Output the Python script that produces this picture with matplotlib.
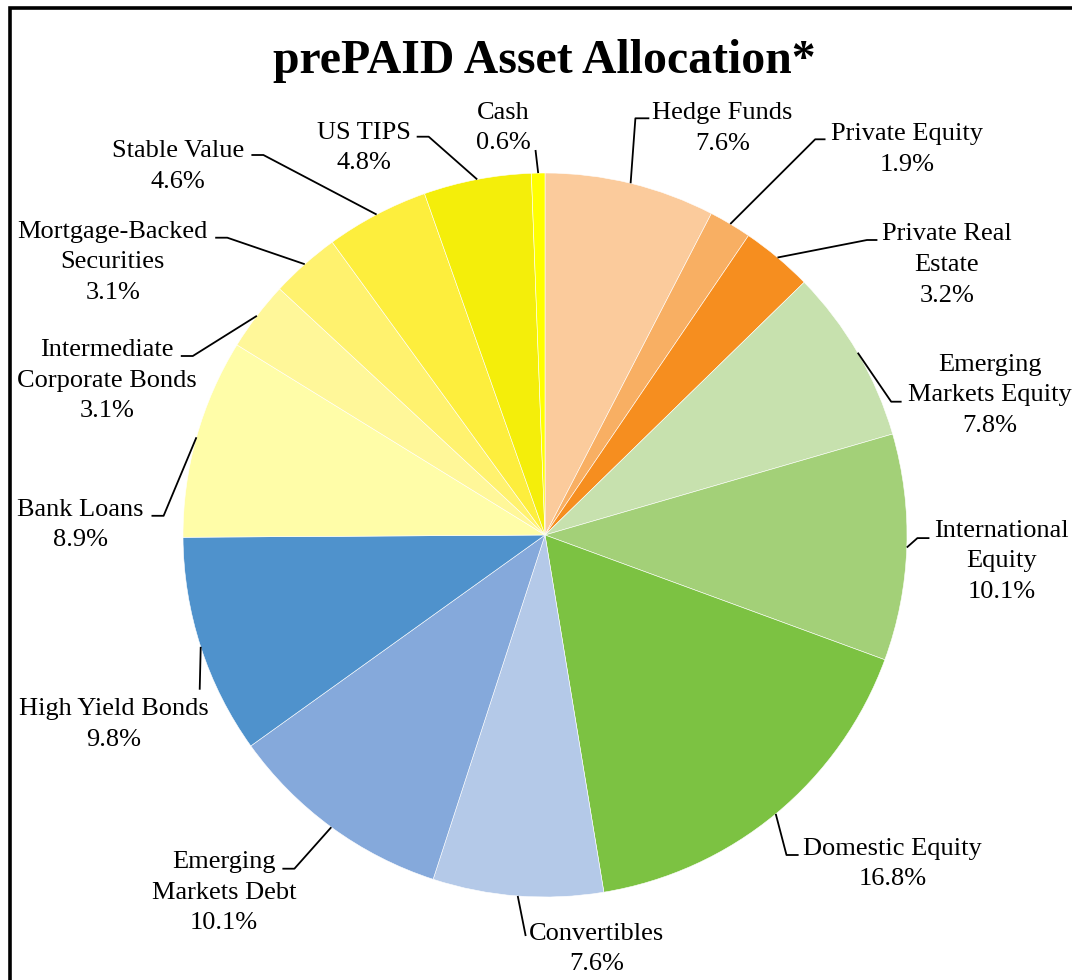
import matplotlib
matplotlib.use("Agg")
import matplotlib.pyplot as plt
import numpy as np

# ---------------- data ----------------
categories = ["Hedge Funds", "Private Equity", "Private Real\nEstate",
              "Emerging\nMarkets Equity", "International\nEquity",
              "Domestic Equity", "Convertibles", "Emerging\nMarkets Debt",
              "High Yield Bonds", "Bank Loans", "Intermediate\nCorporate Bonds",
              "Mortgage-Backed\nSecurities", "Stable Value", "US TIPS", "Cash"]
values = [7.6, 1.9, 3.2, 7.8, 10.1, 16.8, 7.6, 10.1, 9.8, 8.9, 3.1, 3.1, 4.6, 4.8, 0.6]
colors = ["#FBCB9C", "#F8AF63", "#F68E1F", "#C7E1AE", "#A3D078", "#7CC242",
          "#B4C9E8", "#85A9DB", "#4F92CC", "#FFFDA8", "#FFF799", "#FFF26E",
          "#FDEE3D", "#F4EE0A", "#FFFF00"]
title = "prePAID Asset Allocation*"

# ---------------- layout (pixel coordinates, y from top) ----------------
W, H = 1072, 980
pie_center = (545, 535)
pie_radius = 362
# label block centers
label_pos = [(722.5, 128.5), (906.7, 149.5), (947, 265), (989.8, 395),
             (1001.3, 561.5), (892.5, 864), (597, 949), (223.8, 892.5),
             (113.6, 724.5), (80, 525), (107, 380.5), (112.8, 262.5),
             (178.2, 166.5), (363.5, 148), (503.5, 128)]
# leader elbow and end points
leader_pts = [[(635.4, 118.3), (649.3, 118.3)],
              [(815.2, 139.3), (825.5, 139.3)],
              [(867, 240), (877.4, 240)],
              [(891.2, 401.7), (901.6, 401.7)],
              [(917.4, 538.1), (929.4, 538.1)],
              [(786.5, 855), (798.6, 855)],
              [(525.7, 936)],
              [(294.4, 868.7), (282.4, 868.7)],
              [(199.7, 689.7)],
              [(163.6, 515.8), (151.5, 515.8)],
              [(192.8, 356), (180.8, 356)],
              [(227.3, 237.7), (215.2, 237.7)],
              [(263.4, 155), (251.4, 155)],
              [(428.7, 136.7), (416.7, 136.7)],
              [(535.5, 150)]]


def P(px, py):
    return px, H - py


plt.rcParams["font.family"] = ["Liberation Serif", "DejaVu Serif"]

fig = plt.figure(figsize=(W / 100, H / 100), dpi=100)
ax = fig.add_axes([0, 0, 1, 1])

wedges, _ = ax.pie(values, colors=colors, startangle=90, counterclock=False,
                   center=P(*pie_center), radius=pie_radius,
                   wedgeprops=dict(edgecolor="white", linewidth=0.4))
ax.set_xlim(0, W)
ax.set_ylim(0, H)
ax.set_aspect("auto")
ax.axis("off")

pct = [f"{v:.1f}%" for v in values]
for w, cat, p, lp, pts in zip(wedges, categories, pct, label_pos, leader_pts):
    mid = np.deg2rad((w.theta1 + w.theta2) / 2)
    cx, cy = w.center
    ex, ey = cx + w.r * np.cos(mid), cy + w.r * np.sin(mid)
    xs = [ex] + [P(*q)[0] for q in pts]
    ys = [ey] + [P(*q)[1] for q in pts]
    ax.plot(xs, ys, color="black", lw=1.3, solid_capstyle="butt")
    ax.text(*P(*lp), f"{cat}\n{p}", ha="center", va="center",
            fontsize=19, linespacing=1.5, color="black")

ax.text(*P(544, 73), title, ha="center", va="baseline",
        fontsize=34.4, fontweight="bold", color="black")

# outer frame (clipped at right and bottom like the reference)
ax.plot([9.5, 9.5, 1200], [-50, H - 8.5, H - 8.5], color="black", lw=2.6,
        solid_joinstyle="miter", clip_on=False)

fig.savefig("out.png", dpi=100, facecolor="white")
